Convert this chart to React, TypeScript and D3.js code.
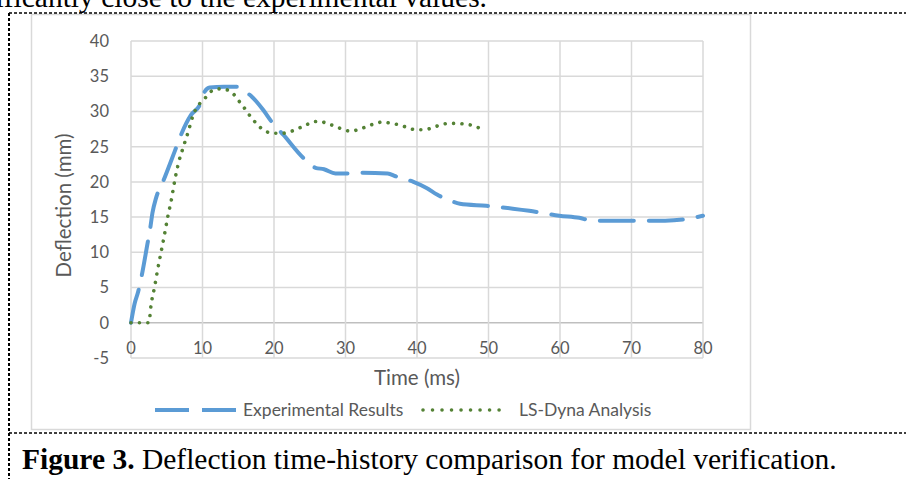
import React, { useRef, useEffect } from 'react';
import * as d3 from 'd3';

// experimental results (blue long dash)
const expTime = [0, 0.5, 1, 1.5, 2.3, 2.7, 3.0, 3.5, 4.5, 6.1, 7.0, 8.4, 9.6, 10.3, 11, 13, 14.8, 16, 16.9, 18.5, 19.7, 21.3, 24.1, 25.8, 27, 28.6, 30.2, 32.3, 35.9, 37, 39.5, 41.4, 42.8, 44.5, 46, 49.7, 53.4, 55.7, 59.9, 62.7, 64.5, 67.3, 71, 74.7, 77.5, 80];
const expDeflection = [0, 2.7, 4.4, 6.7, 11.2, 13.5, 15.6, 17.7, 20.1, 24.3, 26.7, 29.5, 30.9, 32.8, 33.4, 33.5, 33.5, 32.8, 32.1, 30.2, 28.5, 26.7, 23.4, 22, 21.8, 21.2, 21.2, 21.3, 21.2, 20.8, 20.0, 19.1, 18.2, 17.4, 16.9, 16.6, 16.2, 15.9, 15.2, 14.9, 14.5, 14.5, 14.5, 14.5, 14.7, 15.2];

// LS-Dyna analysis (green dots)
const lsTime = [0, 1.2, 2.5, 2.8, 3.3, 3.7, 4.2, 4.7, 5.15, 5.6, 6.1, 6.6, 7.3, 8.0, 8.7, 9.6, 10.3, 11, 12.2, 13.3, 14.3, 15, 15.7, 16.4, 17.1, 17.8, 18.8, 19.9, 21.1, 22.2, 23.4, 24.4, 25.3, 26.4, 27.6, 28.6, 29.7, 30.8, 32, 33.1, 34.2, 35.2, 36.4, 37.5, 38.7, 39.8, 41, 42.2, 43.3, 44.4, 45.5, 46.7, 47.8, 49];
const lsDeflection = [0, 0, 0, 2.5, 5.1, 7.4, 10, 12.6, 15.1, 17.2, 20.1, 22.5, 24.9, 27.1, 29.5, 31.1, 31.8, 32.7, 33.2, 33.1, 32.5, 31.6, 30.7, 29.7, 28.8, 28, 27.2, 26.9, 26.9, 27.1, 27.6, 28, 28.5, 28.6, 28.2, 27.9, 27.4, 27.2, 27.5, 27.9, 28.3, 28.5, 28.3, 28.1, 27.7, 27.4, 27.4, 27.7, 28.1, 28.3, 28.3, 28.2, 28, 27.5];

const xTicks = [0, 10, 20, 30, 40, 50, 60, 70, 80];
const yTicks = [-5, 0, 5, 10, 15, 20, 25, 30, 35, 40];
const seriesNames = ['Experimental Results', 'LS-Dyna Analysis'];
const xTitle = 'Time (ms)';
const yTitle = 'Deflection (mm)';
const topText = 'significantly close to the experimental values.';
const captionBold = 'Figure 3.';
const captionText = ' Deflection time-history comparison for model verification.';

const App = () => {
    const svgRef = useRef<SVGSVGElement>(null);

    useEffect(() => {
        const width = 906;
        const height = 479;
        const chartFont = 'Lato, "Open Sans", sans-serif';
        const serif = '"Liberation Serif", "Times New Roman", serif';
        const gridColor = '#d9d9d9';
        const textColor = '#595959';
        const blue = '#5b9bd5';
        const green = '#548235';

        const svg = d3.select(svgRef.current)
            .attr('width', width)
            .attr('height', height)
            .style('position', 'absolute')
            .style('left', '0px')
            .style('top', '0px')
            .style('background', '#fff');

        svg.selectAll('*').remove();

        // text of the page above the figure (cut by the top edge, as in the scan)
        svg.append('text')
            .attr('x', 487)
            .attr('y', 7)
            .attr('text-anchor', 'end')
            .style('font-family', serif)
            .style('font-size', '29.5px')
            .attr('fill', '#000')
            .text(topText);

        // chart frame
        svg.append('rect')
            .attr('x', 31.5)
            .attr('y', 14.5)
            .attr('width', 719)
            .attr('height', 415)
            .attr('fill', '#fff')
            .attr('stroke', gridColor)
            .attr('stroke-width', 1.5);

        // dashed text box border
        const border = svg.append('g')
            .attr('fill', 'none')
            .attr('stroke', '#000')
            .attr('stroke-dasharray', '3 2');
        border.append('line').attr('x1', 9).attr('x2', 906).attr('y1', 13).attr('y2', 13).attr('stroke-width', 1.5);
        border.append('line').attr('x1', 9).attr('x2', 906).attr('y1', 433).attr('y2', 433).attr('stroke-width', 1.5);
        border.append('line').attr('x1', 9).attr('x2', 9).attr('y1', 13).attr('y2', 479).attr('stroke-width', 2);

        // scales
        const xScale = d3.scaleLinear().domain([0, 80]).range([131, 703]);
        const yScale = d3.scaleLinear().domain([-5, 40]).range([358, 41]);

        // gridlines
        const grid = svg.append('g').attr('stroke-width', 1.5);
        grid.selectAll('.hgrid')
            .data(yTicks)
            .join('line')
            .attr('class', 'hgrid')
            .attr('x1', xScale(0))
            .attr('x2', xScale(80))
            .attr('y1', (d) => yScale(d))
            .attr('y2', (d) => yScale(d))
            .attr('stroke', (d) => (d === 0 ? '#bfbfbf' : gridColor));
        grid.selectAll('.vgrid')
            .data(xTicks)
            .join('line')
            .attr('class', 'vgrid')
            .attr('x1', (d) => xScale(d))
            .attr('x2', (d) => xScale(d))
            .attr('y1', yScale(40))
            .attr('y2', yScale(-5))
            .attr('stroke', gridColor);

        // tick labels
        svg.append('g')
            .selectAll('text')
            .data(yTicks)
            .join('text')
            .attr('x', 109)
            .attr('y', (d) => yScale(d))
            .attr('dy', '0.36em')
            .attr('text-anchor', 'end')
            .style('font-family', chartFont)
            .style('font-size', '16.5px')
            .attr('fill', textColor)
            .text((d) => d);

        svg.append('g')
            .selectAll('text')
            .data(xTicks)
            .join('text')
            .attr('x', (d) => xScale(d))
            .attr('y', 348)
            .attr('dy', '0.36em')
            .attr('text-anchor', 'middle')
            .style('font-family', chartFont)
            .style('font-size', '16.5px')
            .attr('fill', textColor)
            .text((d) => d);

        // axis titles
        svg.append('text')
            .attr('x', (xScale(0) + xScale(80)) / 2)
            .attr('y', 378)
            .attr('dy', '0.36em')
            .attr('text-anchor', 'middle')
            .style('font-family', chartFont)
            .style('font-size', '20.5px')
            .attr('fill', textColor)
            .text(xTitle);

        svg.append('text')
            .attr('transform', `translate(64, ${(yScale(40) + yScale(-5)) / 2 + 6}) rotate(-90)`)
            .attr('dy', '0.36em')
            .attr('text-anchor', 'middle')
            .style('font-family', chartFont)
            .style('font-size', '20.5px')
            .attr('fill', textColor)
            .text(yTitle);

        // lines
        const line = d3.line().curve(d3.curveMonotoneX);

        svg.append('path')
            .datum(expTime.map((t, i) => [xScale(t), yScale(expDeflection[i])] as [number, number]))
            .attr('fill', 'none')
            .attr('stroke', blue)
            .attr('stroke-width', 4)
            .attr('stroke-dasharray', '34 15')
            .attr('stroke-linecap', 'round')
            .attr('d', line);

        svg.append('path')
            .datum(lsTime.map((t, i) => [xScale(t), yScale(lsDeflection[i])] as [number, number]))
            .attr('fill', 'none')
            .attr('stroke', green)
            .attr('stroke-width', 3.6)
            .attr('stroke-dasharray', '0.01 8.4')
            .attr('stroke-linecap', 'round')
            .attr('d', line);

        // legend
        const legendY = 410;
        const legend = svg.append('g');
        legend.append('line')
            .attr('x1', 155).attr('x2', 236)
            .attr('y1', legendY).attr('y2', legendY)
            .attr('stroke', blue)
            .attr('stroke-width', 4)
            .attr('stroke-dasharray', '34 13');
        legend.append('text')
            .attr('x', 243)
            .attr('y', legendY)
            .attr('dy', '0.36em')
            .style('font-family', chartFont)
            .style('font-size', '17.5px')
            .attr('fill', textColor)
            .text(seriesNames[0]);
        legend.append('line')
            .attr('x1', 423).attr('x2', 505)
            .attr('y1', legendY).attr('y2', legendY)
            .attr('stroke', green)
            .attr('stroke-width', 3.6)
            .attr('stroke-dasharray', '0.01 9.5')
            .attr('stroke-linecap', 'round');
        legend.append('text')
            .attr('x', 519)
            .attr('y', legendY)
            .attr('dy', '0.36em')
            .style('font-family', chartFont)
            .style('font-size', '17.5px')
            .attr('fill', textColor)
            .text(seriesNames[1]);

        // caption
        const caption = svg.append('text')
            .attr('x', 22)
            .attr('y', 469)
            .style('font-family', serif)
            .style('font-size', '29.5px')
            .attr('fill', '#000');
        caption.append('tspan').style('font-weight', 'bold').text(captionBold);
        caption.append('tspan').text(captionText);
    }, []);

    return <svg ref={svgRef}></svg>;
};

export default App;
